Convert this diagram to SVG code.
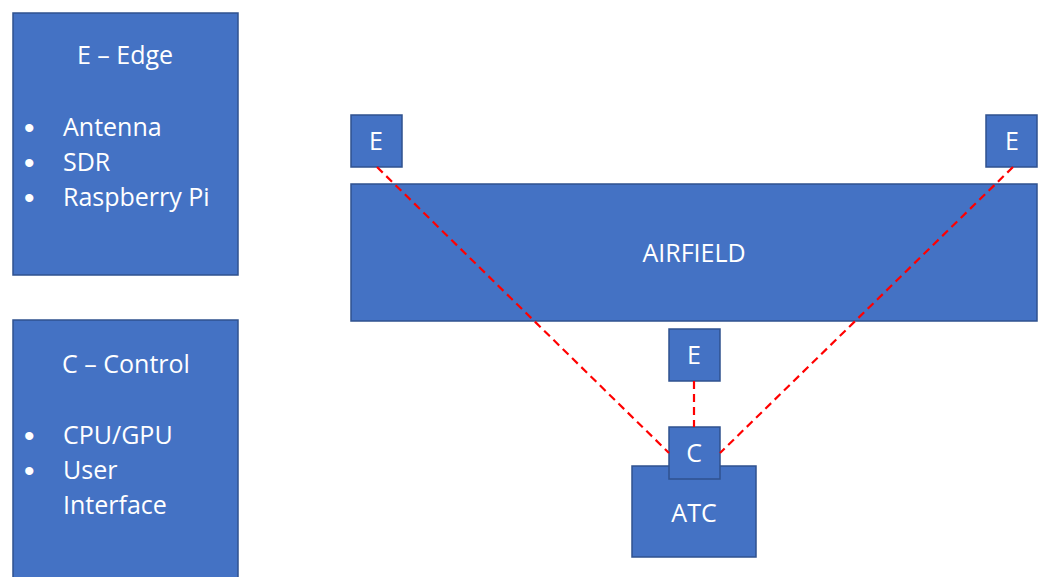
<svg xmlns="http://www.w3.org/2000/svg" width="1041" height="577" viewBox="0 0 1041 577">
<style>
.box{fill:#4472C4;stroke:#2F528F;stroke-width:1.5}
.t{fill:#FFFFFF;font-family:"Open Sans","Liberation Sans",sans-serif;font-size:25px}
.b{fill:#FFFFFF;font-family:"Liberation Sans",sans-serif;font-size:30px}
.c{text-anchor:middle}
.link{stroke:#FF0000;stroke-width:2.2;stroke-dasharray:8 5;fill:none}
</style>
<rect width="1041" height="577" fill="#FFFFFF"/>
<g id="legend-edge">
<rect class="box" x="13" y="13" width="225" height="262"/>
<text class="t c" x="125" y="64">E – Edge</text>
<text class="b" x="24" y="138">•</text><text class="t" x="63" y="136">Antenna</text>
<text class="b" x="24" y="173">•</text><text class="t" x="63" y="171">SDR</text>
<text class="b" x="24" y="208">•</text><text class="t" x="63" y="206">Raspberry Pi</text>
</g>
<g id="legend-control">
<rect class="box" x="13" y="320" width="225" height="270"/>
<text class="t c" x="126" y="373">C – Control</text>
<text class="b" x="24" y="446">•</text><text class="t" x="63" y="444">CPU/GPU</text>
<text class="b" x="24" y="481">•</text><text class="t" x="63" y="479">User</text>
<text class="t" x="63" y="514">Interface</text>
</g>
<g id="airfield">
<rect class="box" x="351" y="184" width="686" height="137"/>
<text class="t c" x="694" y="262">AIRFIELD</text>
</g>
<g id="edge-left">
<rect class="box" x="351" y="115" width="51" height="52"/>
<text class="t c" x="376" y="150">E</text>
</g>
<g id="edge-right">
<rect class="box" x="986" y="115" width="51" height="52"/>
<text class="t c" x="1012" y="150">E</text>
</g>
<g id="edge-middle">
<rect class="box" x="669" y="329" width="51" height="52"/>
<text class="t c" x="694" y="364">E</text>
</g>
<g id="atc">
<rect class="box" x="632" y="466" width="124" height="91"/>
<text class="t c" x="694" y="522">ATC</text>
</g>
<g id="control">
<rect class="box" x="669" y="427" width="51" height="52"/>
<text class="t c" x="694" y="462">C</text>
</g>
<g id="connectors">
<line class="link" x1="377" y1="167" x2="669" y2="453"/>
<line class="link" x1="1013" y1="167" x2="720" y2="453"/>
<line class="link" x1="694" y1="381" x2="694" y2="427"/>
</g>
</svg>
